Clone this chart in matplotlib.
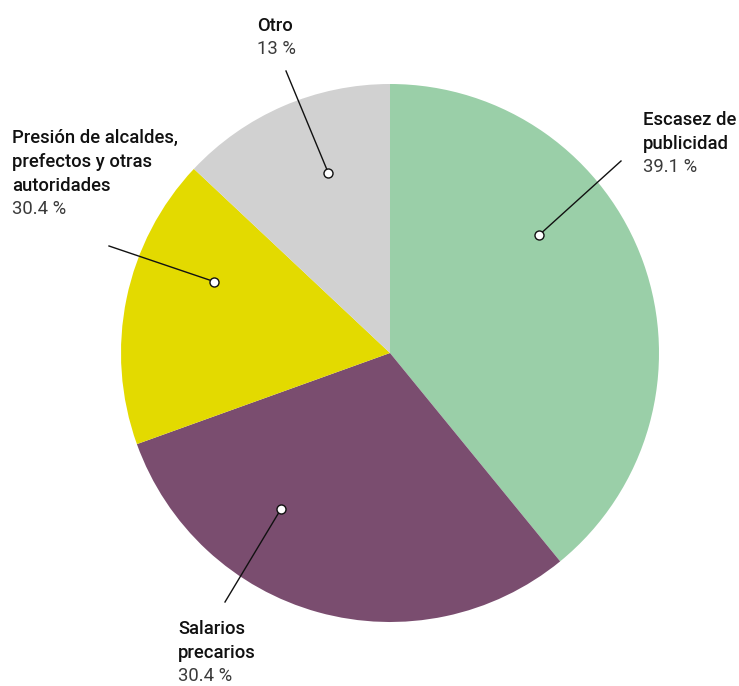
import matplotlib.pyplot as plt
import numpy as np

# slice data (clockwise from the top)
names = [["Escasez de", "publicidad"],
         ["Salarios", "precarios"],
         ["Presión de alcaldes,", "prefectos y otras", "autoridades"],
         ["Otro"]]
values = [39.1, 30.4, 17.5, 13.0]
value_labels = ["39.1 %", "30.4 %", "30.4 %", "13 %"]
colors = ["#9acfa8", "#7a4d6f", "#e3da00", "#d1d1d1"]

W, H = 739, 686
fig = plt.figure(figsize=(W / 100, H / 100), dpi=100)
ax = fig.add_axes([0, 0, 1, 1])

cx, cy, R = 390, H - 353, 269
wedges, _ = ax.pie(values, colors=colors, startangle=90, counterclock=False,
                   center=(cx, cy), radius=R, frame=True,
                   wedgeprops=dict(linewidth=0))
ax.set_xlim(0, W)
ax.set_ylim(0, H)
ax.set_aspect("equal")
ax.axis("off")

# where along each slice the marker sits, and where the leader line ends (image px)
anchor_frac = [0.367, 0.678, 0.665, 0.596]
line_end = [(621, 161), (225, 602), (109, 246), (286, 71)]
# label position: left x and baseline of first line (image px)
label_pos = [(643, 125), (178, 634), (12, 143), (257, 31)]
step = 24

for i, w in enumerate(wedges):
    t1, t2 = w.theta1, w.theta2
    ang = np.deg2rad(t2 - anchor_frac[i] * (t2 - t1))
    px = cx + 0.706 * R * np.cos(ang)
    py = cy + 0.706 * R * np.sin(ang)
    ex, ey = line_end[i]
    ax.plot([px, ex], [py, H - ey], color="#111111", lw=1.0, zorder=3)
    ax.plot(px, py, "o", ms=6.5, mfc="white", mec="#111111", mew=1.0, zorder=4)

    lx, ly = label_pos[i]
    for j, line in enumerate(names[i]):
        ax.text(lx, H - (ly + j * step), line, fontsize=13.3, fontweight="medium",
                family="Roboto", color="#111111", va="baseline", ha="left")
    ax.text(lx, H - (ly + len(names[i]) * step - 1), value_labels[i], fontsize=13.3,
            fontweight="normal", family="Roboto", color="#3a3a3a",
            va="baseline", ha="left")

fig.savefig("out.png", dpi=100)
